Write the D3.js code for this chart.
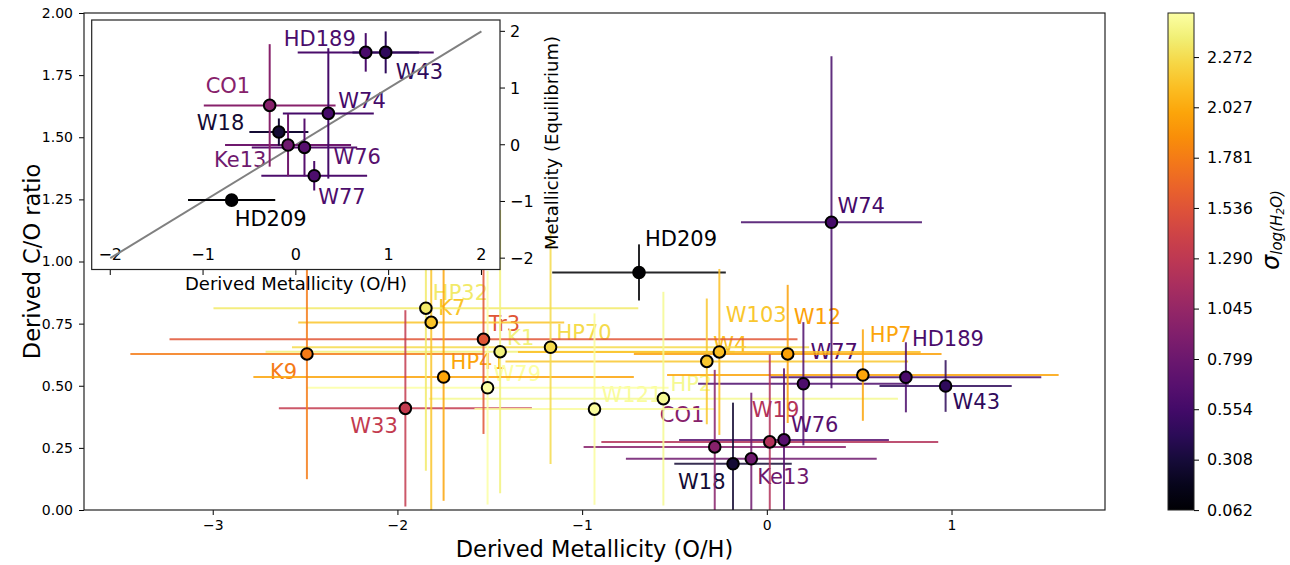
<!DOCTYPE html>
<meta charset="utf-8">
<style>
    body { margin: 0; background: #fff; }
    text { font-family: "DejaVu Sans", sans-serif; }
</style>
<svg width="1290" height="565"></svg>
<script src="https://d3js.org/d3.v7.min.js"></script>
<script>
    // main panel: derived metallicity vs derived C/O, coloured by sigma log(H2O)
    var names = ["HP32", "K7", "Tr3", "K1", "HP70", "K9", "HP41", "W79", "W33", "W121", "HP2", "CO1", "W103",
        "W4", "W12", "HP7", "HD189", "W77", "W74", "HD209", "W43", "W19", "W76", "W18", "Ke13"];
    var metallicity = [-1.846, -1.817, -1.534, -1.444, -1.171, -2.490, -1.750, -1.512, -1.957, -0.933, -0.560, -0.282, -0.325,
        -0.257, 0.113, 0.520, 0.753, 0.198, 0.350, -0.692, 0.968, 0.016, 0.093, -0.183, -0.084];
    var metallicityErr = [1.15, 0.72, 1.70, 1.27, 1.40, 0.956, 1.03, 0.98, 0.685, 0.65, 1.27, 0.71, 1.09,
        1.09, 0.833, 1.06, 0.733, 0.57, 0.49, 0.47, 0.358, 0.912, 0.568, 0.318, 0.679];
    var coRatio = [0.812, 0.755, 0.687, 0.637, 0.655, 0.628, 0.535, 0.492, 0.409, 0.406, 0.448, 0.254, 0.598,
        0.636, 0.628, 0.543, 0.534, 0.508, 1.158, 0.956, 0.499, 0.274, 0.282, 0.186, 0.206];
    var coRatioErr = [0.654, 0.80, 0.381, 0.57, 0.47, 0.504, 0.498, 0.47, 0.395, 0.385, 0.43, 0.31, 0.253,
        0.334, 0.278, 0.184, 0.141, 0.248, 0.668, 0.113, 0.104, 0.352, 0.288, 0.246, 0.266];
    var sigmaH2O = [2.342, 2.148, 1.541, 2.390, 2.269, 1.784, 2.002, 2.487, 1.323, 2.463, 2.439, 0.960, 2.172,
        2.123, 1.978, 2.002, 0.596, 0.620, 0.572, 0.0624, 0.450, 1.226, 0.669, 0.281, 0.814];
    // label offsets from the marker, in pixels
    var labelDx = [7, 7, 5, 7, 6, -37, 7, 6, -55, 7, 7, -55, 19, -6, 6, 7, 6, 7, 6, 6, 7, -18, 7, -55, 6];
    var labelDy = [-8, -7, -8, -7, -7, 25, -8, -7, 25, -7, -8, -25, -39, 0, -30, -33, -31, -25, -9, -26, 23, -25, -8, 25, 25];

    // inset: derived vs equilibrium metallicity
    var insetNames = ["HD189", "W43", "CO1", "W74", "W18", "Ke13", "W76", "W77", "HD209"];
    var eqMetallicity = [1.629, 1.629, 0.694, 0.553, 0.224, -0.005, -0.048, -0.547, -0.976];
    var eqMetallicityErr = [0.34, 0.37, 1.08, 1.15, 0.24, 0.55, 0.51, 0.26, 0.0];
    var insetDx = [-82, 10, -64, 10, -82, -74, 29, 4, 3];
    var insetDy = [-6, 27, -12, -5, -2, 22, 17, 28, 26];

    var xTicks = [-3, -2, -1, 0, 1];
    var yTicks = [0, 0.25, 0.5, 0.75, 1.0, 1.25, 1.5, 1.75, 2.0];
    var insetTicks = [-2, -1, 0, 1, 2];
    var cbarTicks = [0.062, 0.308, 0.554, 0.799, 1.045, 1.290, 1.536, 1.781, 2.027, 2.272];

    var svg = d3.select("svg");

    var x = d3.scaleLinear().domain([-3.697, 1.831]).range([84, 1105]);
    var y = d3.scaleLinear().domain([0, 2]).range([510, 13]);
    var color = d3.scaleSequential(d3.interpolateInferno).domain([0.0624, 2.487]);

    var points = names.map(function (n, i) {
        return {name: n, x: metallicity[i], xe: metallicityErr[i], y: coRatio[i], ye: coRatioErr[i],
            s: sigmaH2O[i], dx: labelDx[i], dy: labelDy[i]};
    });

    svg.append("clipPath").attr("id", "main-clip")
        .append("rect").attr("x", 84).attr("y", 13).attr("width", 1021).attr("height", 497);

    // axes
    var xAxis = svg.append("g")
        .attr("transform", "translate(0,510)")
        .call(d3.axisBottom(x).tickValues(xTicks).tickSize(5).tickPadding(5).tickFormat(d3.format("d")));
    var yAxis = svg.append("g")
        .attr("transform", "translate(84,0)")
        .call(d3.axisLeft(y).tickValues(yTicks).tickSize(5).tickPadding(6).tickFormat(d3.format(".2f")));
    [xAxis, yAxis].forEach(function (a) {
        a.select(".domain").remove();
        a.selectAll("text").attr("font-size", 14).attr("font-family", "DejaVu Sans").attr("fill", "#000");
        a.selectAll("line").attr("stroke", "#000");
    });

    svg.append("text")
        .attr("x", 594.5).attr("y", 557)
        .attr("text-anchor", "middle").attr("font-size", 22.5)
        .text("Derived Metallicity (O/H)");
    svg.append("text")
        .attr("transform", "translate(40,261.5) rotate(-90)")
        .attr("text-anchor", "middle").attr("font-size", 22.5)
        .text("Derived C/O ratio");

    var main = svg.append("g");

    main.selectAll("text.lab")
        .data(points)
        .enter().append("text")
        .attr("class", "lab")
        .attr("x", function (d) { return x(d.x) + d.dx; })
        .attr("y", function (d) { return y(d.y) + d.dy; })
        .attr("font-size", 21)
        .attr("fill", function (d) { return color(d.s); })
        .text(function (d) { return d.name; });

    var bars = main.append("g").attr("clip-path", "url(#main-clip)");
    bars.selectAll("line.xe")
        .data(points)
        .enter().append("line")
        .attr("x1", function (d) { return x(d.x - d.xe); })
        .attr("x2", function (d) { return x(d.x + d.xe); })
        .attr("y1", function (d) { return y(d.y); })
        .attr("y2", function (d) { return y(d.y); })
        .attr("stroke", function (d) { return color(d.s); })
        .attr("stroke-opacity", 0.85)
        .attr("stroke-width", 2);
    bars.selectAll("line.ye")
        .data(points)
        .enter().append("line")
        .attr("x1", function (d) { return x(d.x); })
        .attr("x2", function (d) { return x(d.x); })
        .attr("y1", function (d) { return y(d.y - d.ye); })
        .attr("y2", function (d) { return y(d.y + d.ye); })
        .attr("stroke", function (d) { return color(d.s); })
        .attr("stroke-opacity", 0.85)
        .attr("stroke-width", 2);

    main.selectAll("circle")
        .data(points)
        .enter().append("circle")
        .attr("cx", function (d) { return x(d.x); })
        .attr("cy", function (d) { return y(d.y); })
        .attr("r", 5.8)
        .attr("fill", function (d) { return color(d.s); })
        .attr("stroke", "#000")
        .attr("stroke-width", 2);

    svg.append("rect")
        .attr("x", 84).attr("y", 13).attr("width", 1021).attr("height", 497)
        .attr("fill", "none").attr("stroke", "#222").attr("stroke-width", 1.2);

    // inset
    var ix = d3.scaleLinear().domain([-2.2, 2.2]).range([91.7, 500]);
    var iy = d3.scaleLinear().domain([-2.2, 2.2]).range([269.5, 20]);

    var insetPts = insetNames.map(function (n, i) {
        var j = names.indexOf(n);
        return {name: n, x: metallicity[j], xe: metallicityErr[j], y: eqMetallicity[i], ye: eqMetallicityErr[i],
            s: sigmaH2O[j], dx: insetDx[i], dy: insetDy[i]};
    });

    var inset = svg.append("g");
    inset.append("rect")
        .attr("x", 91.7).attr("y", 20).attr("width", 408.3).attr("height", 249.5)
        .attr("fill", "#fff");

    // x ticks hang below the frame, their labels sit inside it
    inset.selectAll("line.xt")
        .data(insetTicks)
        .enter().append("line")
        .attr("x1", function (d) { return ix(d); }).attr("x2", function (d) { return ix(d); })
        .attr("y1", 270).attr("y2", 275)
        .attr("stroke", "#000");
    inset.selectAll("text.xt")
        .data(insetTicks)
        .enter().append("text")
        .attr("x", function (d) { return ix(d); })
        .attr("y", 260)
        .attr("text-anchor", "middle").attr("font-size", 16)
        .text(d3.format("d"));
    inset.selectAll("line.yt")
        .data(insetTicks)
        .enter().append("line")
        .attr("x1", 500).attr("x2", 505)
        .attr("y1", function (d) { return iy(d); }).attr("y2", function (d) { return iy(d); })
        .attr("stroke", "#000");
    inset.selectAll("text.yt")
        .data(insetTicks)
        .enter().append("text")
        .attr("x", 510)
        .attr("y", function (d) { return iy(d); })
        .attr("dy", "0.36em").attr("font-size", 16)
        .text(d3.format("d"));

    inset.append("text")
        .attr("x", 296).attr("y", 290)
        .attr("text-anchor", "middle").attr("font-size", 18)
        .text("Derived Metallicity (O/H)");
    inset.append("text")
        .attr("transform", "translate(558,143) rotate(-90)")
        .attr("text-anchor", "middle").attr("font-size", 18)
        .text("Metallicity (Equilibrium)");

    inset.selectAll("text.lab")
        .data(insetPts)
        .enter().append("text")
        .attr("x", function (d) { return ix(d.x) + d.dx; })
        .attr("y", function (d) { return iy(d.y) + d.dy; })
        .attr("font-size", 21)
        .attr("fill", function (d) { return color(d.s); })
        .text(function (d) { return d.name; });

    inset.append("line")
        .attr("x1", ix(-2)).attr("y1", iy(-2))
        .attr("x2", ix(2)).attr("y2", iy(2))
        .attr("stroke", "#808080").attr("stroke-width", 2);

    inset.selectAll("line.xe")
        .data(insetPts)
        .enter().append("line")
        .attr("x1", function (d) { return ix(d.x - d.xe); })
        .attr("x2", function (d) { return ix(d.x + d.xe); })
        .attr("y1", function (d) { return iy(d.y); })
        .attr("y2", function (d) { return iy(d.y); })
        .attr("stroke", function (d) { return color(d.s); })
        .attr("stroke-width", 2);
    inset.selectAll("line.ye")
        .data(insetPts)
        .enter().append("line")
        .attr("x1", function (d) { return ix(d.x); })
        .attr("x2", function (d) { return ix(d.x); })
        .attr("y1", function (d) { return iy(d.y - d.ye); })
        .attr("y2", function (d) { return iy(d.y + d.ye); })
        .attr("stroke", function (d) { return color(d.s); })
        .attr("stroke-width", 2);
    inset.selectAll("circle")
        .data(insetPts)
        .enter().append("circle")
        .attr("cx", function (d) { return ix(d.x); })
        .attr("cy", function (d) { return iy(d.y); })
        .attr("r", 5.8)
        .attr("fill", function (d) { return color(d.s); })
        .attr("stroke", "#000")
        .attr("stroke-width", 2);

    inset.append("rect")
        .attr("x", 91.7).attr("y", 20).attr("width", 408.3).attr("height", 249.5)
        .attr("fill", "none").attr("stroke", "#222").attr("stroke-width", 1.2);

    // colorbar
    var cy = d3.scaleLinear().domain(color.domain()).range([510, 13]);
    var grad = svg.append("defs").append("linearGradient")
        .attr("id", "cbar").attr("x1", 0).attr("y1", 1).attr("x2", 0).attr("y2", 0);
    d3.range(0, 1.0001, 0.05).forEach(function (t) {
        grad.append("stop").attr("offset", t).attr("stop-color", d3.interpolateInferno(t));
    });
    svg.append("rect")
        .attr("x", 1168).attr("y", 13).attr("width", 26).attr("height", 497)
        .attr("fill", "url(#cbar)").attr("stroke", "#222").attr("stroke-width", 1);

    var cAxis = svg.append("g")
        .attr("transform", "translate(1194,0)")
        .call(d3.axisRight(cy).tickValues(cbarTicks).tickSize(5).tickPadding(8).tickFormat(d3.format(".3f")));
    cAxis.select(".domain").remove();
    cAxis.selectAll("text").attr("font-size", 16).attr("font-family", "DejaVu Sans").attr("fill", "#000");
    cAxis.selectAll("line").attr("stroke", "#000");

    var cl = svg.append("text")
        .attr("transform", "translate(1279,270) rotate(-90)")
        .attr("font-style", "italic");
    cl.append("tspan").attr("font-size", 24).text("σ");
    cl.append("tspan").attr("font-size", 15).attr("dy", 3).text("log(H");
    cl.append("tspan").attr("font-size", 11).attr("dy", 2).text("2");
    cl.append("tspan").attr("font-size", 15).attr("dy", -2).text("O)");
</script>
